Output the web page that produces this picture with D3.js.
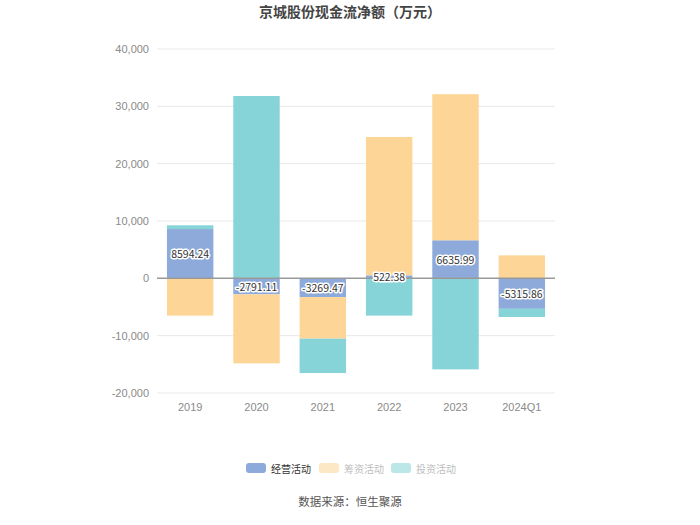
<!DOCTYPE html>
<html>
<head>
  <meta charset="utf-8">
  <title>京城股份现金流净额</title>
  <script src="https://d3js.org/d3.v7.min.js"></script>
  <style type="text/css">
    body { margin: 0; background: #fff; }
    svg { display: block; font-family: "Noto Sans CJK SC", "Noto Sans", sans-serif; }
    .grid line { stroke: #e8e8e8; }
    .axis text { font-size: 11px; fill: #8a8a8a; }
    .bar-label { font-size: 10.5px; fill: #333; stroke: #fff; stroke-width: 3px; paint-order: stroke; stroke-linejoin: round; }
  </style>
</head>
<body>
  <svg id="chart" width="700" height="525"></svg>
  <script>
    // 数据
    var categories = ["2019", "2020", "2021", "2022", "2023", "2024Q1"];
    var seriesNames = ["经营活动", "筹资活动", "投资活动"];
    var operating = [8594.24, -2791.11, -3269.47, 522.38, 6635.99, -5315.86];
    var financing = [-6500, -12040, -7250, 24140, 25480, 4010];
    var investing = [660, 31800, -6000, -6500, -15880, -1430];
    var yTicks = [-20000, -10000, 0, 10000, 20000, 30000, 40000];
    var colors = ["#8eaadb", "#fdd697", "#86d4d8"];

    var svg = d3.select("#chart");
    var margin = { top: 49, left: 157, right: 145, bottom: 132 };
    var width = 700 - margin.left - margin.right,
      height = 525 - margin.top - margin.bottom;

    var chart = svg.append("g")
      .attr("transform", "translate(" + margin.left + "," + margin.top + ")");

    var x = d3.scaleBand()
      .domain(categories)
      .range([0, width])
      .paddingInner(0.3)
      .paddingOuter(0.15);

    var y = d3.scaleLinear()
      .domain([-20000, 40000])
      .range([height, 0]);

    // 网格线
    chart.append("g")
      .attr("class", "grid")
      .selectAll("line")
      .data(yTicks.filter(function (d) { return d !== 0; }))
      .enter()
      .append("line")
      .attr("x1", 0)
      .attr("x2", width)
      .attr("y1", function (d) { return y(d); })
      .attr("y2", function (d) { return y(d); });

    // Y轴（普通连字符作负号）
    var fmt = d3.format(",");
    var yAxis = chart.append("g")
      .attr("class", "axis")
      .call(d3.axisLeft(y).tickValues(yTicks).tickSize(0).tickPadding(8)
        .tickFormat(function (d) { return fmt(d).replace("\u2212", "-"); }));
    yAxis.select(".domain").remove();

    // X轴
    var xAxis = chart.append("g")
      .attr("class", "axis")
      .attr("transform", "translate(0," + height + ")")
      .call(d3.axisBottom(x).tickSize(0).tickPadding(10));
    xAxis.select(".domain").remove();

    // 堆叠（正负分开）
    var rows = categories.map(function (c, i) {
      return { cat: c, 经营活动: operating[i], 筹资活动: financing[i], 投资活动: investing[i] };
    });
    var stack = d3.stack().keys(seriesNames).offset(d3.stackOffsetDiverging);
    var stacked = stack(rows);

    chart.selectAll(".series")
      .data(stacked)
      .enter()
      .append("g")
      .attr("class", "series")
      .attr("fill", function (d, i) { return colors[i]; })
      .selectAll("rect")
      .data(function (d) { return d; })
      .enter()
      .append("rect")
      .attr("x", function (d) { return x(d.data.cat); })
      .attr("width", x.bandwidth())
      .attr("y", function (d) { return y(Math.max(d[0], d[1])); })
      .attr("height", function (d) { return Math.abs(y(d[0]) - y(d[1])); });

    // 零线
    chart.append("line")
      .attr("x1", 0)
      .attr("x2", width)
      .attr("y1", y(0))
      .attr("y2", y(0))
      .attr("stroke", "#999")
      .attr("stroke-width", 1.5);

    // 经营活动标签
    chart.selectAll(".bar-label")
      .data(stacked[0])
      .enter()
      .append("text")
      .attr("class", "bar-label")
      .attr("text-anchor", "middle")
      .attr("dominant-baseline", "central")
      .attr("x", function (d) { return x(d.data.cat) + x.bandwidth() / 2; })
      .attr("y", function (d) { return (y(d[0]) + y(d[1])) / 2; })
      .text(function (d) { return d.data["经营活动"].toFixed(2); });

    // 标题
    svg.append("text")
      .attr("x", 350)
      .attr("y", 17)
      .attr("text-anchor", "middle")
      .attr("font-size", 14)
      .attr("font-weight", "bold")
      .attr("fill", "#444")
      .text("京城股份现金流净额（万元）");

    // 图例
    var legendX = [246, 319, 391];
    var legend = svg.selectAll(".legend")
      .data(seriesNames)
      .enter()
      .append("g")
      .attr("class", "legend")
      .attr("transform", function (d, i) { return "translate(" + legendX[i] + ",463)"; })
      .attr("opacity", function (d, i) { return i === 0 ? 1 : 0.55; });
    legend.append("rect")
      .attr("width", 20)
      .attr("height", 10)
      .attr("rx", 3)
      .attr("fill", function (d, i) { return colors[i]; });
    legend.append("text")
      .attr("x", 25)
      .attr("y", 5)
      .attr("dominant-baseline", "central")
      .attr("font-size", 10)
      .attr("fill", function (d, i) { return i === 0 ? "#333" : "#888"; })
      .text(function (d) { return d; });

    // 数据来源
    svg.append("text")
      .attr("x", 350)
      .attr("y", 506)
      .attr("text-anchor", "middle")
      .attr("font-size", 11.5)
      .attr("fill", "#555")
      .text("数据来源：恒生聚源");
  </script>
</body>
</html>
